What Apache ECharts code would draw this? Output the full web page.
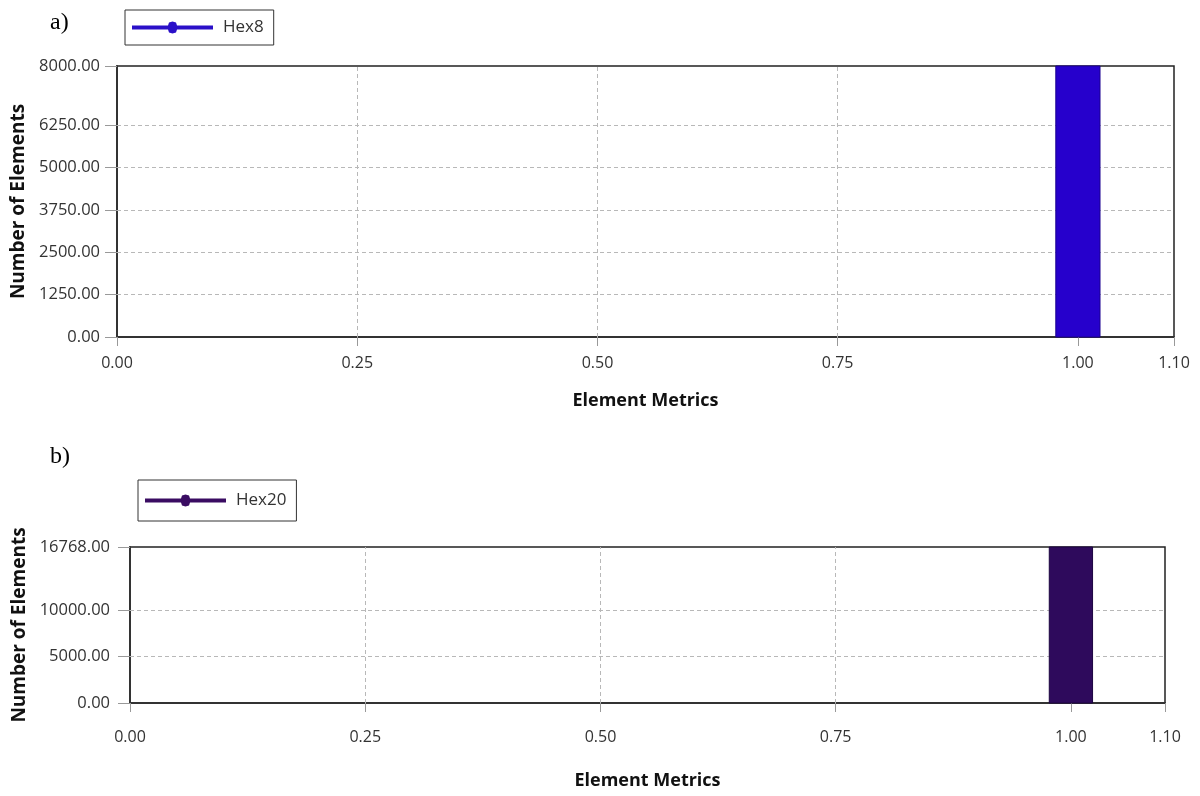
<!DOCTYPE html>
<html>
<head>
<meta charset="utf-8">
<title>Element Metrics</title>
<script src="https://cdn.jsdelivr.net/npm/echarts@6/dist/echarts.min.js"></script>
<style>
  html, body { margin: 0; padding: 0; background: #ffffff; }
  #chart { width: 1200px; height: 796px; }
</style>
</head>
<body>
<div id="chart"></div>
<script>
// Mesh quality histograms: element metric on x, element count on y
const xTicks = [0, 0.25, 0.5, 0.75, 1.0, 1.1];

const hex8BinStart = [0.977];
const hex8BinEnd = [1.023];
const hex8Counts = [8000];
const hex8Ticks = [0, 1250, 2500, 3750, 5000, 6250, 8000];

const hex20BinStart = [0.977];
const hex20BinEnd = [1.023];
const hex20Counts = [16768];
const hex20Ticks = [0, 5000, 10000, 16768];

const FONT = "'Open Sans', 'DejaVu Sans', sans-serif";

// legend glyph: a thick line with an octagonal marker in the middle
const legendIcon = 'path://M0,4 L36,4 L37,1 L40.5,0 L44,1 L45,4 L81,4 L81,8 L45,8 L44,11 L40.5,12 L37,11 L36,8 L0,8 Z';

// interior tick values only; the frame already covers both ends
function innerTicks(ticks) {
  return ticks.filter(t => t > ticks[0] && t < ticks[ticks.length - 1]);
}

function binSeries(name, idx, starts, ends, counts, ticks, fill, edge) {
  const data = counts.map((c, i) => [starts[i], ends[i], c]);
  const grid = innerTicks(ticks).map(v => ({ yAxis: v }))
    .concat(innerTicks(xTicks).map(v => ({ xAxis: v })));
  return {
    type: 'custom',
    name: name,
    xAxisIndex: idx,
    yAxisIndex: idx,
    data: data,
    encode: { x: [0, 1], y: 2 },
    itemStyle: { color: fill },
    renderItem: function (params, api) {
      const p0 = api.coord([api.value(0), 0]);
      const p1 = api.coord([api.value(1), api.value(2)]);
      return {
        type: 'rect',
        shape: { x: p0[0], y: p1[1], width: p1[0] - p0[0], height: p0[1] - p1[1] },
        style: { fill: fill, stroke: edge, lineWidth: 1 },
        z2: 10
      };
    },
    markLine: {
      silent: true,
      symbol: ['none', 'none'],
      label: { show: false },
      lineStyle: { color: '#b8b8b8', type: [4, 3], width: 1 },
      data: grid,
      z: 1,
      animation: false
    },
    z: 3
  };
}

function xAxisCfg(idx, labelMargin, nameGap) {
  return {
    type: 'value',
    gridIndex: idx,
    min: 0,
    max: 1.1,
    interval: 0.25,
    name: 'Element Metrics',
    nameLocation: 'middle',
    nameGap: nameGap,
    nameTextStyle: { fontFamily: FONT, fontWeight: 'bold', fontSize: 18, color: '#111' },
    axisLine: { show: true, onZero: false, lineStyle: { color: '#333', width: 2 } },
    axisTick: { show: true, length: 9, customValues: xTicks, lineStyle: { color: '#999', width: 1 } },
    axisLabel: {
      customValues: xTicks,
      margin: labelMargin,
      fontFamily: FONT, fontSize: 16, color: '#333',
      formatter: v => v.toFixed(2)
    },
    splitLine: { show: false }
  };
}

function yAxisCfg(idx, ticks, labelMargin, nameGap) {
  return {
    type: 'value',
    gridIndex: idx,
    min: ticks[0],
    max: ticks[ticks.length - 1],
    name: 'Number of Elements',
    nameLocation: 'middle',
    nameGap: nameGap,
    nameTextStyle: { fontFamily: FONT, fontWeight: 'bold', fontSize: 19, color: '#111' },
    axisLine: { show: true, lineStyle: { color: '#333', width: 2 } },
    axisTick: { show: true, length: 12, customValues: ticks, lineStyle: { color: '#999', width: 1 } },
    axisLabel: {
      customValues: ticks,
      margin: labelMargin,
      fontFamily: FONT, fontSize: 16.5, color: '#333',
      formatter: v => v.toFixed(2)
    },
    splitLine: { show: false }
  };
}

function legendCfg(name, left, top, color, padV) {
  return {
    left: left,
    top: top,
    orient: 'horizontal',
    padding: [padV, 10, padV, 7],
    borderColor: '#333',
    borderWidth: 1,
    itemWidth: 81,
    itemHeight: 12,
    itemGap: 10,
    selectedMode: false,
    textStyle: { fontFamily: FONT, fontSize: 17, color: '#333', padding: [0, 0, 0, 5] },
    data: [{ name: name, icon: legendIcon, itemStyle: { color: color } }]
  };
}

const chart = echarts.init(document.getElementById('chart'), null, { renderer: 'canvas' });

chart.setOption({
  backgroundColor: '#ffffff',
  animation: false,
  grid: [
    { left: 117, top: 66, width: 1057, height: 271, show: true, borderColor: '#222', borderWidth: 1.5, backgroundColor: '#ffffff' },
    { left: 130, top: 547, width: 1035, height: 156, show: true, borderColor: '#222', borderWidth: 1.5, backgroundColor: '#ffffff' }
  ],
  xAxis: [xAxisCfg(0, 18, 55), xAxisCfg(1, 26, 69)],
  yAxis: [yAxisCfg(0, hex8Ticks, 17, 84), yAxisCfg(1, hex20Ticks, 20, 96)],
  legend: [
    legendCfg('Hex8', 125, 10, '#2a10c8', 9),
    legendCfg('Hex20', 138, 480, '#3a0c62', 12)
  ],
  graphic: [
    { type: 'text', left: 50, top: 11, style: { text: 'a)', font: '24px "Liberation Serif", "DejaVu Serif", serif', fill: '#000' } },
    { type: 'text', left: 50, top: 445, style: { text: 'b)', font: '24px "Liberation Serif", "DejaVu Serif", serif', fill: '#000' } }
  ],
  series: [
    binSeries('Hex8', 0, hex8BinStart, hex8BinEnd, hex8Counts, hex8Ticks, '#2600cc', '#1a0090'),
    binSeries('Hex20', 1, hex20BinStart, hex20BinEnd, hex20Counts, hex20Ticks, '#2e0a5c', '#1c0440')
  ]
});
</script>
</body>
</html>
